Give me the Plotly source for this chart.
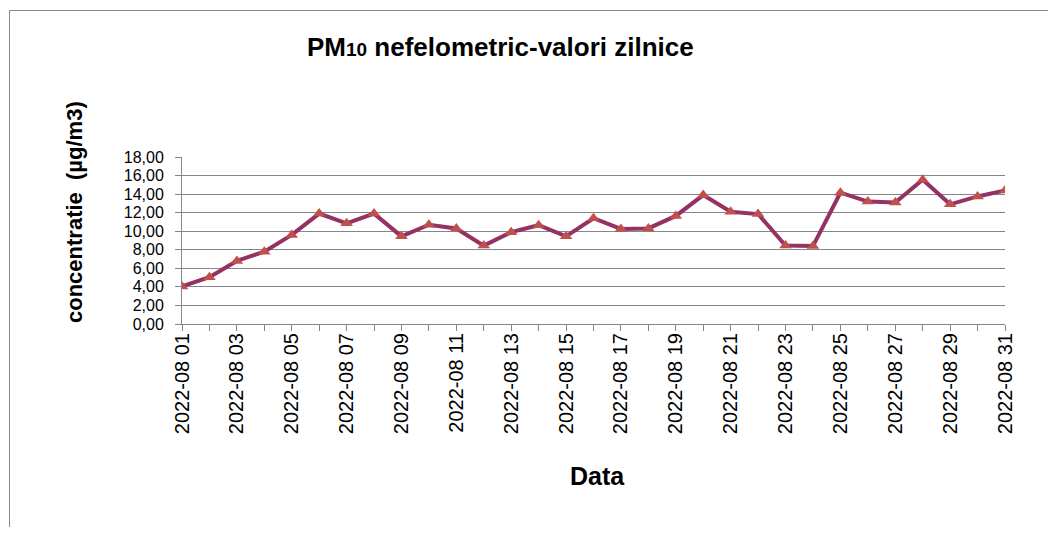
import plotly.graph_objects as go

dates = [f"2022-08-{d:02d}" for d in range(1, 32)]
values = [4.05, 5.05, 6.8, 7.8, 9.6, 11.9, 10.85, 11.9, 9.45, 10.7,
          10.3, 8.45, 9.9, 10.65, 9.45, 11.4, 10.25, 10.3, 11.65, 13.9,
          12.1, 11.85, 8.45, 8.4, 14.15, 13.2, 13.1, 15.55, 12.9, 13.75, 14.4]
tick_labels = [f"2022-08 {d:02d}" if d % 2 == 1 else "" for d in range(1, 32)]
y_ticks = [0, 2, 4, 6, 8, 10, 12, 14, 16, 18]

FONT = "Liberation Sans, Arial, sans-serif"

# page body has an 8px margin; work in page coordinates and shift
OFF = 8
W, H = 1056 - 2 * OFF, 535 - 2 * OFF
L, R, T, B = 182 - OFF, 1005 - OFF, 157 - OFF, 324 - OFF

fig = go.Figure()
fig.add_trace(go.Scatter(
    x=dates, y=values, mode="lines+markers",
    line=dict(color="#953163", width=4),
    marker=dict(symbol="triangle-up", size=11, color="#C0504D"),
    showlegend=False,
))

fig.update_layout(
    width=W, height=H,
    margin=dict(l=L, r=W - R, t=T, b=H - B, pad=0),
    paper_bgcolor="white", plot_bgcolor="white",
    separators=",.",
    font=dict(family=FONT, color="#000"),
    showlegend=False,
)

fig.update_xaxes(
    type="category", range=[0, 30],
    tickmode="array", tickvals=dates, ticktext=tick_labels,
    tickangle=-90, tickfont=dict(size=20, family=FONT),
    ticks="outside", ticklen=6, tickcolor="#868686",
    ticklabelstandoff=-6,
    showline=True, linecolor="#868686", linewidth=1,
    showgrid=False, zeroline=False,
)
fig.update_yaxes(
    range=[0, 18], tickmode="array", tickvals=y_ticks, tickformat=".2f",
    tickfont=dict(size=16, family=FONT),
    ticks="outside", ticklen=6, tickcolor="#868686",
    ticklabelstandoff=8,
    showline=True, linecolor="#868686", linewidth=1,
    showgrid=True, gridcolor="#868686", gridwidth=1,
    zeroline=False,
)

pw, ph = R - L, B - T
def px(x):
    return (x - OFF - L) / pw
def py(y):
    return (B - (y - OFF)) / ph

fig.add_shape(type="rect", xref="paper", yref="paper",
              x0=px(9.5), x1=px(1100), y0=py(600), y1=py(10.5),
              line=dict(color="#888888", width=1), fillcolor="rgba(0,0,0,0)")

fig.add_annotation(xref="paper", yref="paper", x=px(500), y=py(47),
                   text="<b>PM<span style='font-size:19px'>10</span> nefelometric-valori zilnice</b>",
                   showarrow=False, font=dict(size=26, family=FONT),
                   xanchor="center", yanchor="middle")
fig.add_annotation(xref="paper", yref="paper", x=px(597), y=py(476),
                   text="<b>Data</b>", showarrow=False,
                   font=dict(size=25, family=FONT),
                   xanchor="center", yanchor="middle")
fig.add_annotation(xref="paper", yref="paper", x=px(74), y=py(212),
                   text="<b>concentratie  (µg/m3)</b>", showarrow=False,
                   textangle=-90, font=dict(size=22, family=FONT),
                   xanchor="center", yanchor="middle")

fig.write_html("out.html")
